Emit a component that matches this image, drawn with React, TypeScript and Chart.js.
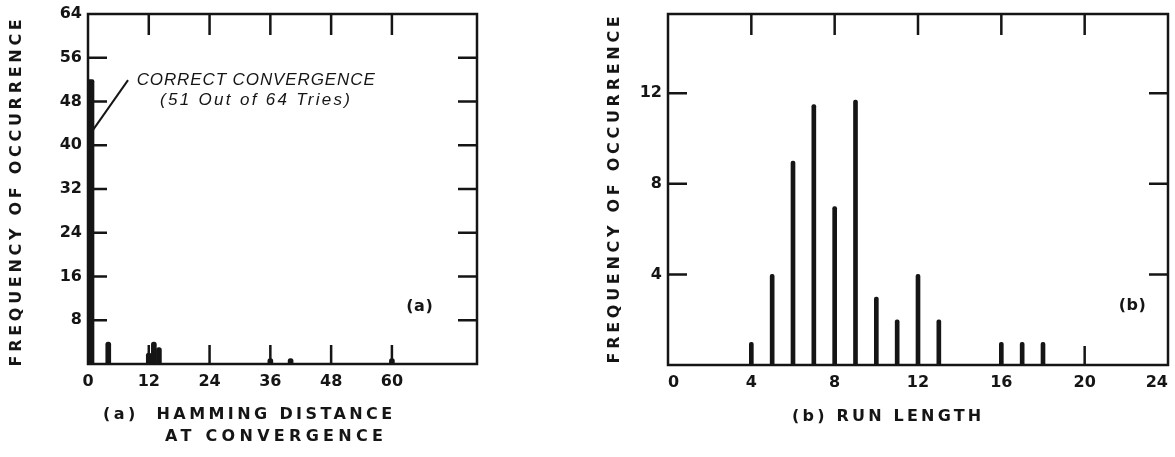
import React, { useEffect, useRef } from 'react';
import { Chart, registerables } from 'chart.js';

Chart.register(...registerables);

// ---------- Panel (a): Hamming distance at convergence ----------
const correctDistance = [0];
const correctFrequency = [52];
const hammingDistances = [4, 12, 13, 14, 36, 40, 60];
const hammingFrequencies = [4, 2, 4, 3, 1, 1, 1];
const hammingXTicks = [0, 12, 24, 36, 48, 60];
const hammingYTicks = [8, 16, 24, 32, 40, 48, 56, 64];
const hammingXMarks = [12, 24, 36, 48, 60];
const hammingYMarks = [8, 16, 24, 32, 40, 48, 56];
const hammingXMax = 76.8;
const hammingYMax = 64;

// ---------- Panel (b): run length ----------
const runLengths = [4, 5, 6, 7, 8, 9, 10, 11, 12, 13, 16, 17, 18];
const runFrequencies = [1, 4, 9, 11.5, 7, 11.7, 3, 2, 4, 2, 1, 1, 1];
const runXTicks = [0, 4, 8, 12, 16, 20, 24];
const runYTicks = [4, 8, 12];
const runXMarks = [4, 8, 12, 16, 20];
const runYMarks = [4, 8, 12];
const runXMax = 24;
const runYMax = 15.5;

// ---------- Texts ----------
const yTitle = 'FREQUENCY OF OCCURRENCE';
const aTitleLine1 = '(a)  HAMMING DISTANCE';
const aTitleLine2 = 'AT CONVERGENCE';
const bTitle = '(b) RUN LENGTH';
const noteLine1 = 'CORRECT CONVERGENCE';
const noteLine2 = '(51 Out of 64 Tries)';

const INK = '#151515';
const TICK_FONT = { family: '"DejaVu Sans", sans-serif', size: 16, weight: 'bold' as const };
const TITLE_FONT = 'bold 16px "DejaVu Sans", sans-serif';
const NOTE_FONT = 'italic 17px "Liberation Sans", Arial, sans-serif';
const TAG_FONT = 'bold 16px "DejaVu Sans", sans-serif';

type TextItem = {
  text: string;
  x: number;
  y: number;
  space: 'data' | 'canvas';
  font: string;
  align: CanvasTextAlign;
  spacing: number;
  rotate?: boolean;
};

type PanelCfg = {
  width: number;
  padRight: number;
  axisWidth: number;
  axisHeight: number;
  xMax: number;
  yMax: number;
  xTicks: number[];
  yTicks: number[];
  xMarks: number[];
  yMarks: number[];
  xAlign: 'center' | 'inner';
  datasets: any[];
  texts: TextItem[];
  leader?: [number, number, number, number];
};

function makeFramePlugin(cfg: PanelCfg) {
  return {
    id: 'frame',
    afterDatasetsDraw(chart: any) {
      const { ctx, chartArea: a } = chart;
      const x = chart.scales.x;
      const y = chart.scales.y;
      ctx.save();
      ctx.strokeStyle = INK;
      ctx.lineWidth = 2.5;
      ctx.strokeRect(a.left, a.top, a.right - a.left, a.bottom - a.top);
      ctx.beginPath();
      for (const v of cfg.xMarks) {
        const px = x.getPixelForValue(v);
        ctx.moveTo(px, a.top);
        ctx.lineTo(px, a.top + 21);
        ctx.moveTo(px, a.bottom);
        ctx.lineTo(px, a.bottom - 19);
      }
      for (const v of cfg.yMarks) {
        const py = y.getPixelForValue(v);
        ctx.moveTo(a.left, py);
        ctx.lineTo(a.left + 19, py);
        ctx.moveTo(a.right, py);
        ctx.lineTo(a.right - 19, py);
      }
      ctx.stroke();
      if (cfg.leader) {
        const [x1, y1, x2, y2] = cfg.leader;
        ctx.lineWidth = 2;
        ctx.beginPath();
        ctx.moveTo(x.getPixelForValue(x1), y.getPixelForValue(y1));
        ctx.lineTo(x.getPixelForValue(x2), y.getPixelForValue(y2));
        ctx.stroke();
      }
      ctx.fillStyle = INK;
      for (const t of cfg.texts) {
        ctx.save();
        ctx.font = t.font;
        (ctx as any).letterSpacing = t.spacing + 'px';
        ctx.textAlign = t.align;
        ctx.textBaseline = 'middle';
        const px = t.space === 'data' ? x.getPixelForValue(t.x) : t.x;
        const py = t.space === 'data' ? y.getPixelForValue(t.y) : t.y;
        ctx.translate(px, py);
        if (t.rotate) ctx.rotate(-Math.PI / 2);
        ctx.fillText(t.text, 0, 0);
        ctx.restore();
      }
      ctx.restore();
    },
  };
}

function buildChart(canvas: HTMLCanvasElement, cfg: PanelCfg) {
  return new Chart(canvas, {
    type: 'bar',
    data: { datasets: cfg.datasets },
    plugins: [makeFramePlugin(cfg)],
    options: {
      responsive: false,
      animation: false,
      devicePixelRatio: 1,
      layout: { padding: { left: 0, right: cfg.padRight, top: 14, bottom: 0 } },
      plugins: { legend: { display: false }, tooltip: { enabled: false } },
      scales: {
        x: {
          type: 'linear',
          min: 0,
          max: cfg.xMax,
          offset: false,
          grid: { display: false, drawTicks: false },
          border: { display: false },
          ticks: {
            color: INK,
            font: TICK_FONT,
            padding: 8,
            maxRotation: 0,
            autoSkip: false,
            align: cfg.xAlign,
            callback: (v: any) => String(v),
          },
          afterBuildTicks: (scale: any) => {
            scale.ticks = cfg.xTicks.map((v) => ({ value: v }));
          },
          afterFit: (scale: any) => {
            scale.height = cfg.axisHeight;
            scale.paddingLeft = 0;
            scale.paddingRight = 0;
          },
        },
        y: {
          type: 'linear',
          min: 0,
          max: cfg.yMax,
          grid: { display: false, drawTicks: false },
          border: { display: false },
          ticks: {
            color: INK,
            font: TICK_FONT,
            padding: 6,
            autoSkip: false,
            callback: (v: any) => String(v),
          },
          afterBuildTicks: (scale: any) => {
            scale.ticks = cfg.yTicks.map((v) => ({ value: v }));
          },
          afterFit: (scale: any) => {
            scale.width = cfg.axisWidth;
            scale.paddingTop = 0;
            scale.paddingBottom = 0;
          },
        },
      },
    } as any,
  });
}

const toPoints = (xs: number[], ys: number[]) => xs.map((x, i) => ({ x, y: ys[i] }));

const panelA: PanelCfg = {
  width: 580,
  padRight: 103,
  axisWidth: 88,
  axisHeight: 93,
  xMax: hammingXMax,
  yMax: hammingYMax,
  xTicks: hammingXTicks,
  yTicks: hammingYTicks,
  xMarks: hammingXMarks,
  yMarks: hammingYMarks,
  xAlign: 'center',
  datasets: [
    {
      data: toPoints(correctDistance, correctFrequency),
      backgroundColor: INK,
      barThickness: 12,
      grouped: false,
      borderRadius: { topLeft: 2, topRight: 2 },
    },
    {
      data: toPoints(hammingDistances, hammingFrequencies),
      backgroundColor: INK,
      barThickness: 5,
      grouped: false,
      borderRadius: { topLeft: 2.5, topRight: 2.5 },
    },
  ],
  leader: [1.0, 42.8, 7.9, 51.9],
  texts: [
    { text: noteLine1, x: 33.2, y: 51.9, space: 'data', font: NOTE_FONT, align: 'center', spacing: 0.9 },
    { text: noteLine2, x: 33.2, y: 48.3, space: 'data', font: NOTE_FONT, align: 'center', spacing: 2.3 },
    { text: '(a)', x: 65.5, y: 10.4, space: 'data', font: TAG_FONT, align: 'center', spacing: 0.5 },
    { text: yTitle, x: 17, y: 191, space: 'canvas', font: TITLE_FONT, align: 'center', spacing: 3.7, rotate: true },
    { text: aTitleLine1, x: 103, y: 415, space: 'canvas', font: TITLE_FONT, align: 'left', spacing: 3.4 },
    { text: aTitleLine2, x: 165, y: 437, space: 'canvas', font: TITLE_FONT, align: 'left', spacing: 4.3 },
  ],
};

const panelB: PanelCfg = {
  width: 595,
  padRight: 7,
  axisWidth: 88,
  axisHeight: 92,
  xMax: runXMax,
  yMax: runYMax,
  xTicks: runXTicks,
  yTicks: runYTicks,
  xMarks: runXMarks,
  yMarks: runYMarks,
  xAlign: 'inner',
  datasets: [
    {
      data: toPoints(runLengths, runFrequencies),
      backgroundColor: INK,
      barThickness: 4,
      borderRadius: { topLeft: 2, topRight: 2 },
    },
  ],
  texts: [
    { text: '(b)', x: 22.3, y: 2.6, space: 'data', font: TAG_FONT, align: 'center', spacing: 0.5 },
    { text: yTitle, x: 35, y: 188, space: 'canvas', font: TITLE_FONT, align: 'center', spacing: 3.7, rotate: true },
    { text: bTitle, x: 212, y: 417, space: 'canvas', font: TITLE_FONT, align: 'left', spacing: 3.2 },
  ],
};

function Panel({ cfg, left }: { cfg: PanelCfg; left: number }) {
  const ref = useRef<HTMLCanvasElement | null>(null);
  useEffect(() => {
    if (!ref.current) return;
    const chart = buildChart(ref.current, cfg);
    return () => chart.destroy();
  }, [cfg]);
  return (
    <canvas
      ref={ref}
      width={cfg.width}
      height={457}
      style={{ position: 'absolute', left, top: 0, width: cfg.width, height: 457, display: 'block' }}
    />
  );
}

export default function App() {
  return (
    <div style={{ position: 'fixed', left: 0, top: 0, width: 1175, height: 457, background: '#ffffff', overflow: 'hidden' }}>
      <Panel cfg={panelA} left={0} />
      <Panel cfg={panelB} left={580} />
    </div>
  );
}
